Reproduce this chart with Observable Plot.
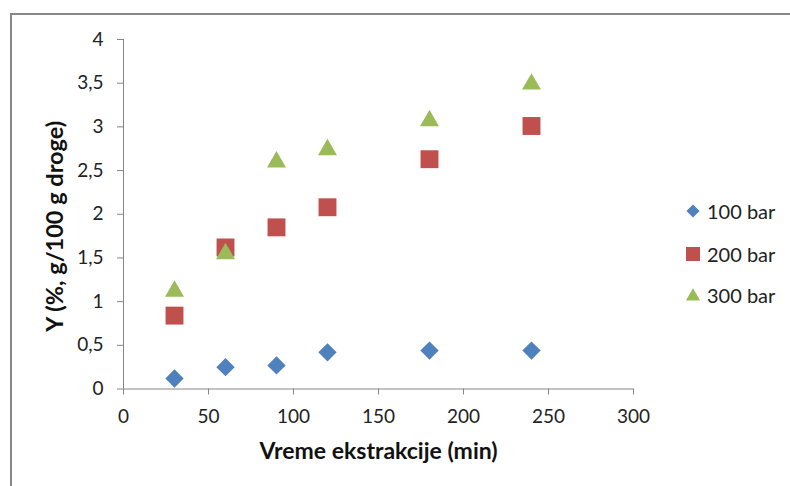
<!DOCTYPE html>
<html>
<head>
<meta charset="utf-8">
<script src="https://cdn.jsdelivr.net/npm/d3@7"></script>
<script src="https://cdn.jsdelivr.net/npm/@observablehq/plot@0.6"></script>
<style>
  html, body { margin: 0; padding: 0; background: #fff; }
  #wrap { position: relative; width: 790px; height: 486px; overflow: hidden; font-family: Lato, sans-serif; }
  #frame { position: absolute; left: 10px; top: 13px; width: 900px; height: 600px;
           border-left: 2px solid #878787; border-top: 2px solid #878787; }
  #chart { position: absolute; left: 0; top: 0; }
  .leg { position: absolute; left: 684px; height: 24px; display: flex; align-items: center;
         font-size: 20px; color: #222; }
  .leg svg { margin-right: 5px; }
</style>
</head>
<body>
<div id="wrap">
  <div id="frame"></div>
  <div id="chart"></div>
</div>
<script>
// ---- data ----
const times = [30, 60, 90, 120, 180, 240];
const y100 = [0.12, 0.25, 0.27, 0.42, 0.44, 0.44];
const y200 = [0.84, 1.62, 1.85, 2.08, 2.63, 3.01];
const y300 = [1.15, 1.58, 2.63, 2.77, 3.10, 3.52];
const seriesNames = ["100 bar", "200 bar", "300 bar"];
const seriesColors = ["#4F81BD", "#C0504D", "#9BBB59"];
const seriesSymbols = ["diamond2", "square", "triangle"];
const xTicks = [0, 50, 100, 150, 200, 250, 300];
const yTicks = [0, 0.5, 1, 1.5, 2, 2.5, 3, 3.5, 4];
const xTitle = "Vreme ekstrakcije (min)";
const yTitle = "Y (%, g/100 g droge)";

const seriesValues = [y100, y200, y300];
const rows = seriesValues.map((vals, k) =>
  times.map((t, i) => ({ t, y: vals[i], s: seriesNames[k] })));

const radii = [8.25, 10.1, 7.05];
const dys = [0, 0, 2.7];

const chart = Plot.plot({
  width: 790,
  height: 486,
  marginLeft: 123,
  marginRight: 157,
  marginTop: 39,
  marginBottom: 97.5,
  style: { fontFamily: "Lato, sans-serif", fontSize: "19px", color: "#222", background: "transparent" },
  x: { domain: [0, 300] },
  y: { domain: [0, 4] },
  marks: [
    Plot.axisY({ ticks: yTicks, tickSize: 6, tickPadding: 14, stroke: "#868686", fill: "#222",
                 tickFormat: d => String(d).replace(".", ","), label: null }),
    Plot.axisX({ ticks: xTicks, tickSize: 6, tickPadding: 14, stroke: "#868686", fill: "#222", label: null }),
    Plot.ruleX([0], { stroke: "#868686" }),
    Plot.ruleY([0], { stroke: "#868686" }),
    Plot.text([xTitle], { frameAnchor: "bottom", dy: 70, fontWeight: "bold", fontSize: 23, fill: "#111" }),
    Plot.text([yTitle], { frameAnchor: "left", textAnchor: "middle", dx: -68, dy: 12, rotate: -90,
                          fontWeight: "bold", fontSize: 23.5, fill: "#111" }),
    ...rows.map((data, k) => Plot.dot(data, {
      x: "t", y: "y", symbol: () => seriesSymbols[k], fill: seriesColors[k], r: radii[k], dy: dys[k]
    }))
  ]
});
document.getElementById("chart").appendChild(chart);

// legend
const legTops = [211, 254, 295];
const legSizes = [110, 196, 88];
const wrap = document.getElementById("wrap");
seriesNames.forEach((name, k) => {
  const div = document.createElement("div");
  div.className = "leg";
  div.style.top = (legTops[k] - 12) + "px";
  const sym = { diamond2: d3.symbolDiamond2, square: d3.symbolSquare, triangle: d3.symbolTriangle }[seriesSymbols[k]];
  const svg = d3.create("svg").attr("width", 18).attr("height", 18);
  svg.append("path")
    .attr("transform", `translate(9,${k === 2 ? 10.5 : 9})`)
    .attr("d", d3.symbol(sym, legSizes[k])())
    .attr("fill", seriesColors[k]);
  div.appendChild(svg.node());
  div.appendChild(document.createTextNode(name));
  wrap.appendChild(div);
});
</script>
</body>
</html>
